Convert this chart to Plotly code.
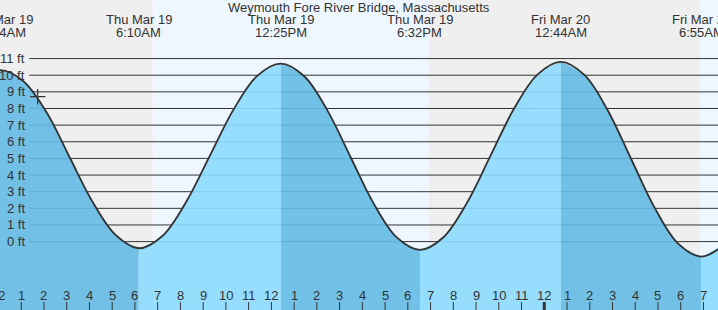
import plotly.graph_objects as go

# ---- data (hours since Thu Mar 19 00:00, height in ft) ----
times = [-0.966, 0.067, 1.083, 2.1, 3.117, 4.133, 5.15, 6.167,
         7.208, 8.25, 9.292, 10.333, 11.375, 12.417,
         13.436, 14.456, 15.475, 16.494, 17.514, 18.533,
         19.567, 20.6, 21.633, 22.667, 23.7, 24.733,
         25.764, 26.794, 27.825, 28.856, 29.886, 30.917, 31.95]
heights = [9.6, 10.3, 9.65, 7.8, 5.1, 2.4, 0.4, -0.4,
           0.34, 2.38, 5.15, 7.93, 9.96, 10.7,
           9.95, 7.9, 5.1, 2.3, 0.25, -0.5,
           0.26, 2.33, 5.15, 7.98, 10.04, 10.8,
           10.02, 7.88, 4.95, 2.03, -0.12, -0.9, -0.15]

extreme_times = [0.067, 6.167, 12.417, 18.533, 24.733, 30.917]
extreme_dates = ["Thu Mar 19", "Thu Mar 19", "Thu Mar 19", "Thu Mar 19", "Fri Mar 20", "Fri Mar 20"]
extreme_labels = ["12:04AM", "6:10AM", "12:25PM", "6:32PM", "12:44AM", "6:55AM"]

# daylight bands (start, end) in hours
day_bands = [(6.79, 18.93), (30.85, 40)]
night_bands = [(-2, 6.79), (18.93, 30.85)]

ft_levels = list(range(0, 12))
hour_ticks = list(range(0, 32))
hour_labels = [str((h % 12) or 12) for h in hour_ticks]

now_time = 1.724
now_height = 8.71

title = "Weymouth Fore River Bridge, Massachusetts"

# ---- styling ----
FONT = "Liberation Sans, Arial, sans-serif"
TXT = "#333333"
DARK = "rgba(100,186,227,0.9)"
LIGHT = "rgba(140,218,255,0.9)"
X_RANGE = [0.066, 31.64]
Y_RANGE = [-4.11, 14.52]
BOTTOM = -6


def to_paper_x(h):
    return (h - X_RANGE[0]) / (X_RANGE[1] - X_RANGE[0])


fig = go.Figure()

# phase fills (rising = light, falling = dark)
bounds = [times[0]] + extreme_times + [times[-1]]
for i in range(len(bounds) - 1):
    t0, t1 = bounds[i], bounds[i + 1]
    seg = [(t, v) for t, v in zip(times, heights) if t0 <= t <= t1]
    xs = [p[0] for p in seg]
    ys = [p[1] for p in seg]
    rising = ys[-1] > ys[0]
    fig.add_trace(go.Scatter(x=[t0, t1], y=[BOTTOM, BOTTOM], mode="lines",
                             line=dict(width=0), hoverinfo="skip", showlegend=False))
    fig.add_trace(go.Scatter(x=xs, y=ys, mode="lines", fill="tonexty",
                             fillcolor=LIGHT if rising else DARK,
                             line=dict(width=0, shape="spline", smoothing=1.0),
                             hoverinfo="skip", showlegend=False))

# outline
fig.add_trace(go.Scatter(x=times, y=heights, mode="lines",
                         line=dict(color="#333333", width=1.8, shape="spline", smoothing=1.0),
                         hoverinfo="skip", showlegend=False))

# current time marker
fig.add_trace(go.Scatter(x=[now_time], y=[now_height], mode="markers",
                         marker=dict(symbol="cross-thin", size=11,
                                     line=dict(color="#333333", width=1.2)),
                         hoverinfo="skip", showlegend=False))

shapes = []
for a, b in night_bands:
    shapes.append(dict(type="rect", xref="x", yref="paper", x0=a, x1=b, y0=0, y1=1,
                       fillcolor="#efefef", line=dict(width=0), layer="below"))
for a, b in day_bands:
    shapes.append(dict(type="rect", xref="x", yref="paper", x0=a, x1=b, y0=0, y1=1,
                       fillcolor="#eef7ff", line=dict(width=0), layer="below"))
for k in ft_levels:
    shapes.append(dict(type="line", xref="paper", yref="y", x0=29.3 / 718, x1=1, y0=k, y1=k,
                       line=dict(color="#333333", width=1), layer="below"))
for h in hour_ticks:
    w = 3 if h % 24 == 0 else 1
    shapes.append(dict(type="line", xref="x", yref="paper", x0=h, x1=h, y0=0, y1=8 / 310,
                       line=dict(color="#333333", width=w), layer="above"))

annotations = []
annotations.append(dict(text=title, xref="paper", yref="paper", x=0.5, y=1 - 7.5 / 310,
                        xanchor="center", yanchor="middle", showarrow=False,
                        font=dict(family=FONT, size=13, color=TXT)))
for t, d, l in zip(extreme_times, extreme_dates, extreme_labels):
    annotations.append(dict(text=d, xref="paper", yref="paper", x=to_paper_x(t), y=1 - 20 / 310,
                            xanchor="center", yanchor="middle", showarrow=False,
                            font=dict(family=FONT, size=13, color=TXT)))
    annotations.append(dict(text=l, xref="paper", yref="paper", x=to_paper_x(t), y=1 - 32 / 310,
                            xanchor="center", yanchor="middle", showarrow=False,
                            font=dict(family=FONT, size=13, color=TXT)))
for k in ft_levels:
    annotations.append(dict(text=f"{k} ft", xref="paper", yref="y", x=27 / 718, y=k,
                            xanchor="right", yanchor="middle", showarrow=False,
                            font=dict(family=FONT, size=13, color=TXT)))
for h, lab in zip(hour_ticks, hour_labels):
    annotations.append(dict(text=lab, xref="paper", yref="paper", x=to_paper_x(h), y=15 / 310,
                            xanchor="center", yanchor="middle", showarrow=False,
                            font=dict(family=FONT, size=13, color=TXT)))

fig.update_layout(
    width=718, height=310, margin=dict(l=0, r=0, t=0, b=0),
    paper_bgcolor="#efefef", plot_bgcolor="#efefef",
    xaxis=dict(range=X_RANGE, visible=False, fixedrange=True),
    yaxis=dict(range=Y_RANGE, visible=False, fixedrange=True),
    shapes=shapes, annotations=annotations, showlegend=False,
)

fig.write_html("out.html")
